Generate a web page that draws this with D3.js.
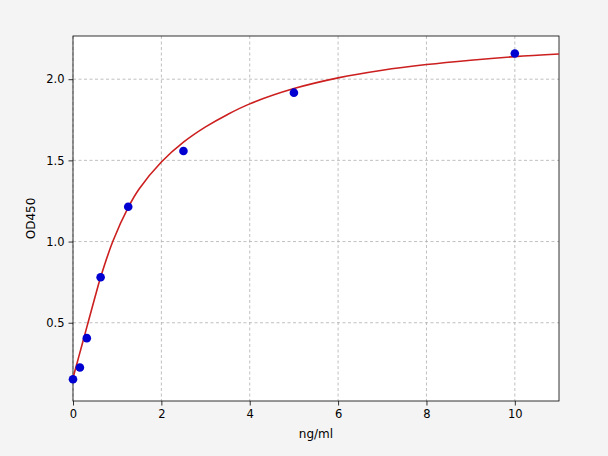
<!DOCTYPE html>
<html>
<head>
<meta charset="utf-8">
<script src="https://cdn.jsdelivr.net/npm/d3@7"></script>
<style>
  body { margin: 0; background: #f4f4f4; }
  text { font-family: "DejaVu Sans", sans-serif; }
</style>
</head>
<body>
<div id="chart"></div>
<script>
// standard points (concentration, OD)
const concs = [0, 0.156, 0.3125, 0.625, 1.25, 2.5, 5, 10];
const ods = [0.152, 0.224, 0.405, 0.78, 1.214, 1.558, 1.917, 2.158];

// fitted curve
const curveX = [0, 0.1, 0.2, 0.34, 0.5, 0.625, 0.9, 1.25, 1.5, 2, 2.5, 3, 3.5, 4, 5, 6, 7, 8, 9, 10, 11];
const curveY = [0.16, 0.26, 0.36, 0.5, 0.66, 0.78, 1.0, 1.21, 1.325, 1.49, 1.612, 1.706, 1.783, 1.848, 1.942, 2.008, 2.055, 2.09, 2.117, 2.139, 2.155];

const xTicks = [0, 2, 4, 6, 8, 10];
const yTicks = [0.5, 1.0, 1.5, 2.0];

const W = 608, H = 456;
const margin = {top: 36, right: 49, bottom: 55, left: 73};
const width = W - margin.left - margin.right;
const height = H - margin.top - margin.bottom;

const svg = d3.select("#chart")
  .append("svg")
  .attr("width", W)
  .attr("height", H);

svg.append("rect")
  .attr("width", W).attr("height", H)
  .attr("fill", "#f4f4f4");

const g = svg.append("g")
  .attr("transform", `translate(${margin.left}, ${margin.top})`);

g.append("rect")
  .attr("width", width).attr("height", height)
  .attr("fill", "#ffffff");

const x = d3.scaleLinear().domain([0, 11]).range([0, width]);
const y = d3.scaleLinear().domain([0.018, 2.266]).range([height, 0]);

// grid
g.append("g")
  .selectAll("line")
  .data(xTicks)
  .enter()
  .append("line")
  .attr("x1", d => x(d)).attr("x2", d => x(d))
  .attr("y1", 0).attr("y2", height)
  .attr("stroke", "#b0b0b0")
  .attr("stroke-width", 0.8)
  .attr("stroke-dasharray", "3,2.5");

g.append("g")
  .selectAll("line")
  .data(yTicks)
  .enter()
  .append("line")
  .attr("x1", 0).attr("x2", width)
  .attr("y1", d => y(d)).attr("y2", d => y(d))
  .attr("stroke", "#b0b0b0")
  .attr("stroke-width", 0.8)
  .attr("stroke-dasharray", "3,2.5");

// axes
const xAxis = g.append("g")
  .attr("transform", `translate(0, ${height})`)
  .call(d3.axisBottom(x).tickValues(xTicks).tickFormat(d3.format("d")).tickSize(4.5).tickPadding(4));

const yAxis = g.append("g")
  .call(d3.axisLeft(y).tickValues(yTicks).tickFormat(d3.format(".1f")).tickSize(4.5).tickPadding(4));

[xAxis, yAxis].forEach(a => {
  a.select(".domain").remove();
  a.selectAll(".tick line").attr("stroke", "#000").attr("stroke-width", 0.8);
  a.selectAll(".tick text")
    .attr("fill", "#000")
    .style("font-size", "11.5px")
    .style("font-family", "DejaVu Sans, sans-serif");
});

// frame
g.append("rect")
  .attr("width", width).attr("height", height)
  .attr("fill", "none")
  .attr("stroke", "#000")
  .attr("stroke-width", 0.8);

// curve
const line = d3.line()
  .x(d => x(d[0]))
  .y(d => y(d[1]))
  .curve(d3.curveCatmullRom.alpha(0.5));

g.append("path")
  .datum(curveX.map((v, i) => [v, curveY[i]]))
  .attr("d", line)
  .attr("fill", "none")
  .attr("stroke", "#cc1f1f")
  .attr("stroke-width", 1.6);

// points
g.append("g")
  .selectAll("circle")
  .data(concs.map((v, i) => [v, ods[i]]))
  .enter()
  .append("circle")
  .attr("cx", d => x(d[0]))
  .attr("cy", d => y(d[1]))
  .attr("r", 4.3)
  .attr("fill", "#0000d0");

// labels
svg.append("text")
  .attr("x", margin.left + width / 2)
  .attr("y", 438)
  .attr("text-anchor", "middle")
  .style("font-size", "12px")
  .text("ng/ml");

svg.append("text")
  .attr("transform", `translate(35, ${margin.top + height / 2}) rotate(-90)`)
  .attr("text-anchor", "middle")
  .style("font-size", "12px")
  .text("OD450");
</script>
</body>
</html>
